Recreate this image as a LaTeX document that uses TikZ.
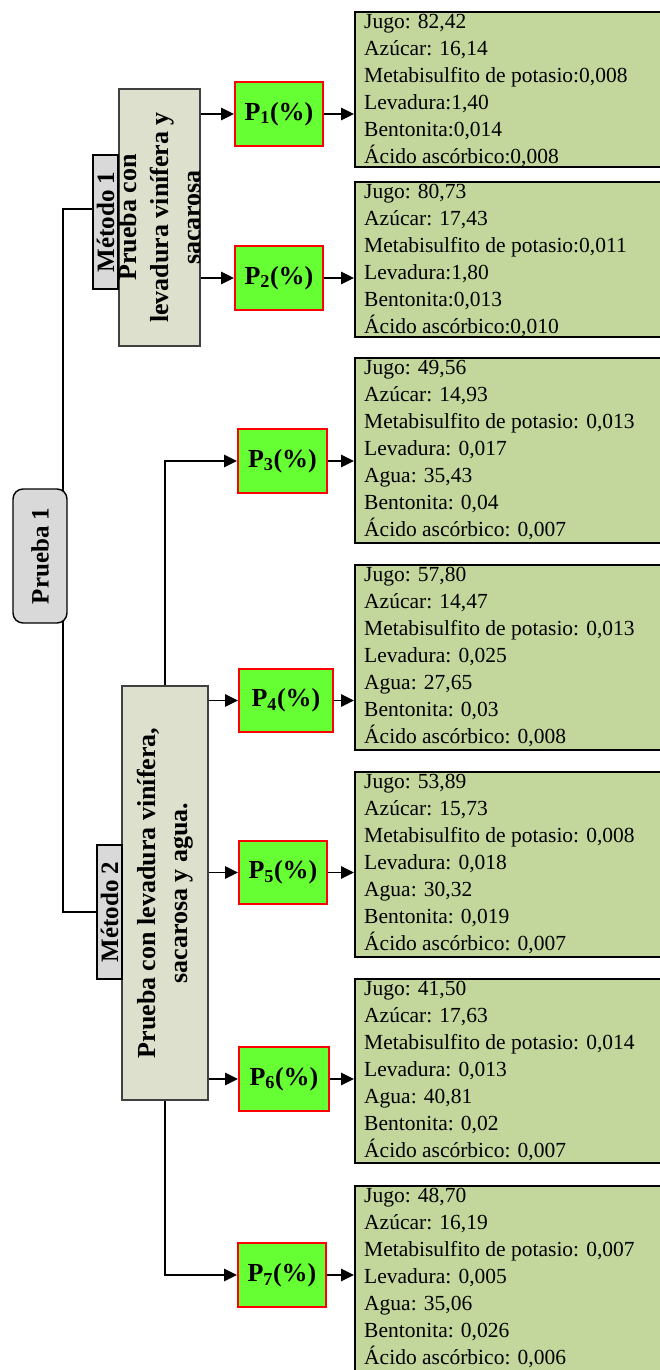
\documentclass[tikz,border=0pt]{standalone}
\usepackage{fontspec}
\setmainfont{Liberation Serif}
\usetikzlibrary{arrows.meta,backgrounds}
\definecolor{pgreen}{HTML}{66FF33}
\definecolor{pred}{HTML}{FF0000}
\definecolor{dfill}{HTML}{C3D69B}
\definecolor{mfill}{HTML}{DDE0CC}
\definecolor{lfill}{HTML}{D9D9D9}
\definecolor{mborder}{HTML}{404040}

\tikzset{
  line/.style={line width=1.3pt, draw=black},
  arr/.style={line, -{Triangle[length=13pt,width=12.5pt]}},
  pbox/.style={draw=pred, line width=2pt, fill=pgreen, minimum height=64pt,
    inner sep=0pt, font=\bfseries\fontsize{26}{30}\selectfont},
  dbox/.style={draw=black, line width=2pt, fill=dfill, minimum width=325pt, inner sep=0pt},
  dtext/.style={anchor=north west, inner sep=0pt, align=left,
    font=\fontsize{21.5}{27}\selectfont},
  mbox/.style={draw=mborder, line width=1.2pt, fill=mfill, inner sep=0pt},
  mtext/.style={rotate=90, align=center, inner sep=0pt,
    font=\bfseries\fontsize{26}{32}\selectfont},
  lbox/.style={draw=black, line width=1.4pt, fill=lfill, minimum width=25pt,
    minimum height=134pt, inner sep=0pt},
  ltext/.style={rotate=90, inner sep=0pt, font=\bfseries\fontsize{25}{30}\selectfont},
}

\begin{document}
\begin{tikzpicture}[x=1pt,y=-1pt]
\useasboundingbox (0,0) rectangle (660,1370);

% root
\node[draw=black, line width=1.4pt, fill=lfill, rounded corners=10pt,
      minimum width=54pt, minimum height=134pt, inner sep=0pt] (pr) at (40,556) {};
\node[ltext] (prt) at (pr.center) {Prueba 1};

% method 1
\node[mbox, minimum width=81pt, minimum height=257pt] (m1) at (159.5,217.5) {};
\node[lbox] (m1l) at (105.5,222) {};
\node[ltext] (m1lt) at (m1l.center) {Método 1};
\node[mtext] (m1t) at (m1.center) {Prueba con\\levadura vinífera y\\sacarosa};

% method 2
\node[mbox, minimum width=86pt, minimum height=414pt] (m2) at (165,893) {};
\node[lbox] (m2l) at (109.5,912) {};
\node[ltext] (m2lt) at (m2l.center) {Método 2};
\node[mtext] (m2t) at (m2.center) {Prueba con levadura vinífera,\\sacarosa y agua.};

% percentage boxes
\node[pbox, minimum width=88pt] (p1) at (279,114) {P\textsubscript{1}(\%)};
\node[pbox, minimum width=88pt] (p2) at (279,278) {P\textsubscript{2}(\%)};
\node[pbox, minimum width=89pt] (p3) at (282.5,461) {P\textsubscript{3}(\%)};
\node[pbox, minimum width=94pt, minimum height=63pt] (p4) at (286,700.5) {P\textsubscript{4}(\%)};
\node[pbox, minimum width=88pt, minimum height=63pt] (p5) at (283,872.5) {P\textsubscript{5}(\%)};
\node[pbox, minimum width=90pt] (p6) at (284,1079) {P\textsubscript{6}(\%)};
\node[pbox, minimum width=88pt] (p7) at (282,1275) {P\textsubscript{7}(\%)};

% composition boxes
\node[dbox, minimum height=155pt] (d1) at (517.5,89.5) {};
\node[dbox, minimum height=155pt] (d2) at (517.5,259.5) {};
\node[dbox, minimum height=185pt] (d3) at (517.5,450.5) {};
\node[dbox, minimum height=185pt] (d4) at (517.5,657.5) {};
\node[dbox, minimum height=185pt] (d5) at (517.5,864.5) {};
\node[dbox, minimum height=184pt] (d6) at (517.5,1071) {};
\node[dbox, minimum height=187pt] (d7) at (517.5,1279.5) {};

\node[dtext] (t1) at ([xshift=10pt,yshift=-3pt]d1.north west)
  {Jugo: 82,42\\Azúcar: 16,14\\Metabisulfito de potasio:0,008\\Levadura:1,40\\Bentonita:0,014\\Ácido ascórbico:0,008};
\node[dtext] (t2) at ([xshift=10pt,yshift=-3pt]d2.north west)
  {Jugo: 80,73\\Azúcar: 17,43\\Metabisulfito de potasio:0,011\\Levadura:1,80\\Bentonita:0,013\\Ácido ascórbico:0,010};
\node[dtext] (t3) at ([xshift=10pt,yshift=-3pt]d3.north west)
  {Jugo: 49,56\\Azúcar: 14,93\\Metabisulfito de potasio: 0,013\\Levadura: 0,017\\Agua: 35,43\\Bentonita: 0,04\\Ácido ascórbico: 0,007};
\node[dtext] (t4) at ([xshift=10pt,yshift=-3pt]d4.north west)
  {Jugo: 57,80\\Azúcar: 14,47\\Metabisulfito de potasio: 0,013\\Levadura: 0,025\\Agua: 27,65\\Bentonita: 0,03\\Ácido ascórbico: 0,008};
\node[dtext] (t5) at ([xshift=10pt,yshift=-3pt]d5.north west)
  {Jugo: 53,89\\Azúcar: 15,73\\Metabisulfito de potasio: 0,008\\Levadura: 0,018\\Agua: 30,32\\Bentonita: 0,019\\Ácido ascórbico: 0,007};
\node[dtext] (t6) at ([xshift=10pt,yshift=-3pt]d6.north west)
  {Jugo: 41,50\\Azúcar: 17,63\\Metabisulfito de potasio: 0,014\\Levadura: 0,013\\Agua: 40,81\\Bentonita: 0,02\\Ácido ascórbico: 0,007};
\node[dtext] (t7) at ([xshift=10pt,yshift=-3pt]d7.north west)
  {Jugo: 48,70\\Azúcar: 16,19\\Metabisulfito de potasio: 0,007\\Levadura: 0,005\\Agua: 35,06\\Bentonita: 0,026\\Ácido ascórbico: 0,006};

% trunk from the root, running under the root box
\begin{pgfonlayer}{background}
  \fill[white] (0,0) rectangle (660,1370);
  \draw[line] ([xshift=23pt]pr.center) |- ([yshift=13pt]m1l.west);
  \draw[line] ([xshift=23pt]pr.center) |- (m2l.west);
\end{pgfonlayer}

% method 1 branches
\draw[arr] (m1.east |- p1.west) -- (p1.west);
\draw[arr] (m1.east |- p2.west) -- (p2.west);

% method 2 branches
\draw[arr] (m2.north) |- (p3.west);
\draw[arr] (m2.east |- p4.west) -- (p4.west);
\draw[arr] (m2.east |- p5.west) -- (p5.west);
\draw[arr] (m2.east |- p6.west) -- (p6.west);
\draw[arr] (m2.south) |- (p7.west);

% percentages to compositions
\foreach \i in {1,...,7}
  \draw[arr] (p\i.east) -- (p\i.east -| d\i.west);
\end{tikzpicture}
\end{document}
